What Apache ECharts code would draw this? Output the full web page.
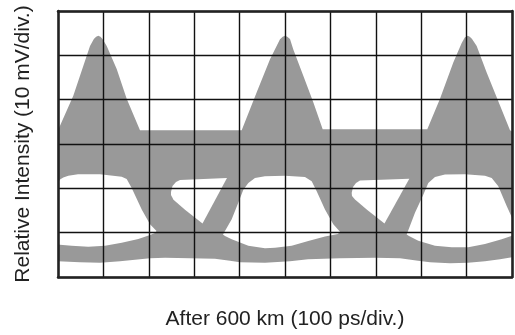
<!DOCTYPE html>
<html>
<head>
<meta charset="utf-8">
<script src="https://cdn.jsdelivr.net/npm/echarts@6/dist/echarts.min.js"></script>
<style>
  html, body {margin: 0; padding: 0; background: #fff;}
  #chart {width: 515px; height: 335px;}
</style>
</head>
<body>
<div id="chart"></div>
<script>
// eye diagram, x in ps (100 ps/div), y in mV (10 mV/div)
const xTicks = [0, 100, 200, 300, 400, 500, 600, 700, 800, 900, 1000];
const yTicks = [0, 10, 20, 30, 40, 50, 60];

// upper edge of the grey trace, left to right
const topEdge = [
  [0, 33.1], [33.7, 40.9], [55.7, 47.6], [70.5, 52.1], [79, 53.7], [84, 54.2], [88.8, 54.4],
  [93.5, 54.2], [98, 53.7], [107.3, 52.1], [129.3, 46.9], [151.3, 40.2], [180.6, 33.1],
  [404.6, 33.1], [437.7, 41.7], [467, 49.1], [489, 53.6], [495, 54.2], [500, 54.4],
  [505, 54.2], [511, 53.7], [518.3, 51.3], [540.3, 45.4], [562.3, 39.4], [583, 33.3],
  [813.4, 33.3], [841.4, 40.2], [870.7, 48.4], [889.2, 52.8], [896, 54], [902.4, 54.4],
  [907, 54.2], [912, 53.7], [922.2, 52.1], [944.2, 46.1], [973.6, 38.7], [995.6, 33.1], [1000, 32.8]
];

// lower edge of the bottom band, right to left
const bandBottom = [
  [1000, 4.46], [973.6, 4.01], [940.5, 3.57], [903.1, 3.23], [863.4, 3.12], [819.4, 3.35],
  [793, 3.68], [753.3, 4.24], [698.2, 4.35], [621.1, 4.24], [550.7, 4.01], [511, 3.57],
  [455.9, 3.23], [400.9, 3.35], [378.9, 3.68], [345.8, 4.13], [235.7, 4.35], [202.6, 4.24],
  [136.6, 3.57], [92.5, 3.23], [48.5, 3.35], [0, 3.57]
];

// open eyes (white)
const leftEye = [
  [0, 21.19], [4.4, 21.97], [11.7, 22.42], [22.7, 22.86], [44.1, 23.2], [92.5, 23.2],
  [140.3, 22.64], [151.3, 22.08], [162.3, 20.07], [184.4, 15.23], [202.7, 11.89], [217, 10.37],
  [213.7, 9.93], [202.7, 9.48], [176.9, 8.59], [140.3, 7.7], [103.5, 7.03], [66.7, 6.8],
  [30.2, 7.03], [4.4, 7.25], [0, 7.36]
];
const middleEye = [
  [363.4, 9.59], [382.6, 13], [397.1, 16.73], [408.2, 19.7], [419.2, 21.19], [433.9, 22.31],
  [455.9, 22.75], [500, 22.86], [544, 22.53], [558.8, 21.57], [569.8, 19.34], [588.1, 15.23],
  [606.4, 11.89], [621.1, 10.19], [616.7, 9.7], [588.1, 9.15], [551.3, 8.14], [514.7, 7.03],
  [477.9, 6.58], [455.9, 6.47], [419.2, 7.03], [382.6, 8.54], [367.8, 9.26]
];
const rightEye = [
  [768, 9.59], [786.3, 14.5], [804.6, 18.58], [815.6, 21.19], [830.4, 22.53], [852.4, 23.13],
  [896.5, 23.2], [940.5, 22.82], [955.3, 22.31], [969.8, 20.45], [988.3, 15.99], [1000, 13.38],
  [1000, 9.3], [977.3, 8.54], [940.5, 7.43], [903.7, 6.69], [867.2, 6.69], [830.4, 7.07],
  [793.6, 8.19], [773.1, 9.26]
];
// small triangular openings
const triangle1 = [
  [248.9, 19.18], [252.2, 20.52], [259.9, 21.41], [268.7, 21.86], [372.2, 22.31],
  [318.3, 12.09], [279.7, 15.17], [254.4, 17.4], [248.9, 18.51]
];
const triangle2 = [
  [646.9, 18.96], [649.8, 20.3], [656.4, 21.19], [665.2, 21.75], [773.8, 22.15],
  [719.1, 12.04], [680.6, 15.17], [654.2, 17.46], [647.6, 18.29]
];

const shapes = [
  {points: topEdge.concat(bandBottom), color: '#999999'},
  {points: leftEye, color: '#ffffff'},
  {points: middleEye, color: '#ffffff'},
  {points: rightEye, color: '#ffffff'},
  {points: triangle1, color: '#ffffff'},
  {points: triangle2, color: '#ffffff'}
];

const titleFont = {fontFamily: 'Liberation Sans', fontSize: 21, color: '#222'};
const frameLine = {show: true, onZero: false, lineStyle: {color: '#222', width: 2.5}};
const gridLine = {show: true, lineStyle: {color: '#111', width: 1.4}};

const chart = echarts.init(document.getElementById('chart'));
chart.setOption({
  animation: false,
  grid: {left: 58, right: 3, top: 11, bottom: 55},
  xAxis: [
    {
      type: 'value', min: 0, max: 1000, interval: xTicks[1] - xTicks[0], position: 'bottom', z: 10,
      axisLine: frameLine, axisTick: {show: false}, axisLabel: {show: false}, splitLine: gridLine,
      name: 'After 600 km (100 ps/div.)', nameLocation: 'middle', nameGap: 32, nameTextStyle: titleFont
    },
    {
      type: 'value', min: 0, max: 1000, position: 'top', z: 10,
      axisLine: frameLine, axisTick: {show: false}, axisLabel: {show: false}, splitLine: {show: false}
    }
  ],
  yAxis: [
    {
      type: 'value', min: 0, max: 60, interval: yTicks[1] - yTicks[0], position: 'left', z: 10,
      axisLine: frameLine, axisTick: {show: false}, axisLabel: {show: false}, splitLine: gridLine,
      name: 'Relative Intensity (10 mV/div.)', nameLocation: 'middle', nameGap: 24, nameTextStyle: titleFont
    },
    {
      type: 'value', min: 0, max: 60, position: 'right', z: 10,
      axisLine: frameLine, axisTick: {show: false}, axisLabel: {show: false}, splitLine: {show: false}
    }
  ],
  series: [{
    type: 'custom',
    clip: true,
    data: shapes.map((s, i) => i),
    renderItem: function (params, api) {
      const s = shapes[params.dataIndex];
      return {
        type: 'polygon',
        shape: {points: s.points.map(p => api.coord(p))},
        style: {fill: s.color}
      };
    }
  }]
});
</script>
</body>
</html>
